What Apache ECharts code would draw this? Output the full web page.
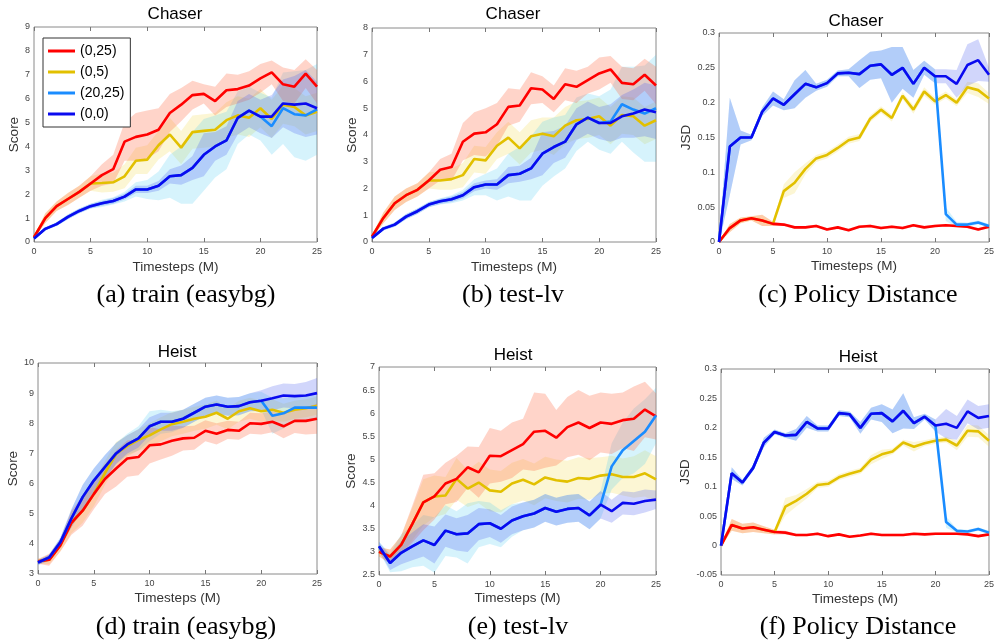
<!DOCTYPE html>
<html>
<head>
<meta charset="utf-8">
<script src="https://cdn.jsdelivr.net/npm/echarts@6/dist/echarts.min.js"></script>
<style>
html,body{margin:0;padding:0;background:#fff;}
#chart{width:997px;height:641px;}
</style>
</head>
<body>
<div id="chart"></div>
<script>
// ---------- data ----------
const steps = ['0','1','2','3','4','5','6','7','8','9','10','11','12','13','14','15','16','17','18','19','20','21','22','23','24','25'];
const seriesNames = ['(0,25)','(0,5)','(20,25)','(0,0)'];

// (a) train (easybg) - Chaser
const aRed    = [0.2,1.0,1.5,1.8,2.1,2.45,2.8,3.05,4.2,4.4,4.5,4.7,5.4,5.75,6.15,6.2,5.9,6.35,6.4,6.55,6.85,7.1,6.6,6.5,7.05,6.5];
const aYellow = [0.2,1.0,1.5,1.8,2.1,2.45,2.47,2.5,2.75,3.4,3.45,4.05,4.5,3.95,4.6,4.65,4.7,5.1,5.3,5.2,5.6,5.15,5.75,5.65,5.3,5.45];
const aLight  = [0.15,0.55,0.75,1.05,1.3,1.5,1.62,1.72,1.9,2.2,2.2,2.35,2.75,2.8,3.1,3.65,4.0,4.25,5.2,5.5,5.25,4.85,5.6,5.35,5.3,5.55];
const aBlue   = [0.15,0.55,0.75,1.05,1.3,1.5,1.62,1.72,1.9,2.2,2.2,2.35,2.75,2.8,3.1,3.65,4.0,4.25,5.2,5.5,5.25,5.25,5.8,5.75,5.8,5.6];
const aRedSd    = [0.05,0.2,0.2,0.25,0.25,0.3,0.45,0.6,0.8,1.0,1.0,0.9,0.8,0.7,0.6,0.4,0.6,0.7,0.6,0.6,0.6,0.5,0.7,0.7,0.6,0.7];
const aYellowSd = [0.05,0.2,0.2,0.25,0.25,0.3,0.4,0.4,0.5,0.55,0.6,0.6,0.7,0.7,0.7,0.7,0.7,0.75,0.8,0.8,0.8,0.8,0.8,0.8,0.8,0.8];
const aLightSd  = [0.05,0.05,0.08,0.1,0.1,0.1,0.15,0.15,0.2,0.3,0.4,0.6,0.9,1.2,1.5,1.5,1.3,1.2,1.1,1.0,1.0,1.2,1.5,1.8,1.9,1.9];
const aBlueSd   = [0.05,0.07,0.08,0.1,0.1,0.1,0.1,0.12,0.12,0.15,0.15,0.2,0.3,0.4,0.5,0.9,0.6,0.6,0.7,0.7,0.7,0.9,1.0,1.2,1.4,1.1];

// (b) test-lv - Chaser
const bRed    = [0.2,0.9,1.45,1.75,1.95,2.3,2.7,2.8,3.75,4.05,4.1,4.4,5.05,5.1,5.75,5.7,5.35,5.9,5.8,6.05,6.3,6.45,5.95,5.9,6.25,5.85];
const bYellow = [0.2,0.9,1.45,1.75,1.95,2.3,2.3,2.35,2.5,3.1,3.05,3.6,3.9,3.5,3.95,4.05,3.95,4.35,4.55,4.6,4.7,4.35,4.75,4.7,4.35,4.55];
const bLight  = [0.15,0.5,0.65,0.95,1.15,1.4,1.52,1.6,1.75,2.05,2.15,2.15,2.5,2.55,2.75,3.3,3.55,3.75,4.4,4.65,4.45,4.5,5.15,4.95,4.8,5.0];
const bBlue   = [0.15,0.5,0.65,0.95,1.15,1.4,1.52,1.6,1.75,2.05,2.15,2.15,2.5,2.55,2.75,3.3,3.55,3.75,4.4,4.65,4.45,4.45,4.7,4.8,4.95,4.85];
const bRedSd    = [0.05,0.2,0.25,0.25,0.25,0.3,0.4,0.5,0.7,0.8,0.9,0.8,0.7,0.6,0.6,0.5,0.5,0.6,0.6,0.5,0.6,0.5,0.6,0.6,0.6,0.7];
const bYellowSd = [0.05,0.2,0.25,0.25,0.25,0.3,0.35,0.4,0.45,0.5,0.5,0.5,0.6,0.6,0.6,0.6,0.7,0.7,0.7,0.7,0.7,0.7,0.7,0.7,0.7,0.7];
const bLightSd  = [0.05,0.05,0.08,0.1,0.1,0.1,0.12,0.15,0.2,0.3,0.4,0.6,0.8,1.0,1.2,1.2,1.1,1.0,1.0,0.9,1.0,1.2,1.4,1.6,1.8,2.0];
const bBlueSd   = [0.05,0.07,0.08,0.1,0.1,0.1,0.1,0.1,0.12,0.15,0.15,0.2,0.3,0.3,0.4,0.8,0.6,0.6,0.6,0.6,0.6,0.7,0.8,0.9,1.0,1.0];

// (c) Policy Distance - Chaser
const cRed    = [0,0.02,0.031,0.034,0.031,0.026,0.025,0.021,0.021,0.023,0.018,0.021,0.017,0.022,0.023,0.02,0.022,0.02,0.024,0.021,0.023,0.024,0.023,0.022,0.018,0.022];
const cYellow = [0,0.02,0.031,0.034,0.031,0.026,0.073,0.085,0.105,0.12,0.125,0.135,0.146,0.15,0.177,0.19,0.178,0.21,0.19,0.216,0.202,0.211,0.2,0.222,0.218,0.206];
const cLight  = [0,0.137,0.15,0.15,0.187,0.206,0.197,0.212,0.227,0.222,0.228,0.242,0.243,0.241,0.253,0.255,0.24,0.25,0.227,0.25,0.238,0.04,0.025,0.025,0.028,0.023];
const cBlue   = [0,0.137,0.15,0.15,0.187,0.206,0.197,0.212,0.227,0.222,0.228,0.242,0.243,0.241,0.253,0.255,0.24,0.25,0.227,0.25,0.238,0.238,0.227,0.254,0.261,0.24];
const cRedSd    = [0.001,0.006,0.004,0.003,0.008,0.003,0.002,0.002,0.002,0.002,0.002,0.002,0.002,0.002,0.002,0.002,0.002,0.002,0.002,0.002,0.002,0.002,0.002,0.002,0.002,0.002];
const cYellowSd = [0.001,0.006,0.004,0.003,0.008,0.003,0.01,0.015,0.008,0.005,0.005,0.005,0.005,0.005,0.005,0.005,0.005,0.005,0.006,0.006,0.005,0.005,0.005,0.008,0.01,0.008];
const cLightSd  = [0.002,0.07,0.01,0.004,0.006,0.01,0.008,0.02,0.02,0.005,0.005,0.004,0.005,0.02,0.02,0.02,0.04,0.03,0.02,0.01,0.01,0.01,0.004,0.003,0.003,0.003];
const cBlueSd   = [0.002,0.07,0.01,0.004,0.006,0.01,0.008,0.02,0.02,0.005,0.005,0.004,0.005,0.02,0.02,0.02,0.04,0.03,0.02,0.01,0.01,0.01,0.02,0.03,0.03,0.01];

// (d) train (easybg) - Heist
const dRed    = [3.42,3.47,3.95,4.7,5.1,5.65,6.15,6.5,6.83,6.88,7.27,7.3,7.42,7.5,7.52,7.75,7.65,7.78,7.75,8.0,7.98,8.05,7.9,8.08,8.08,8.15];
const dYellow = [3.42,3.47,3.95,4.7,5.1,5.65,6.35,6.98,7.25,7.45,7.6,7.8,7.97,8.05,8.15,8.22,8.35,8.15,8.4,8.5,8.4,8.45,8.35,8.45,8.5,8.58];
const dLight  = [3.38,3.55,4.05,4.85,5.55,6.1,6.55,7.0,7.3,7.5,7.9,8.05,8.05,8.15,8.35,8.55,8.62,8.55,8.57,8.7,8.75,8.25,8.33,8.52,8.52,8.52];
const dBlue   = [3.38,3.55,4.05,4.85,5.55,6.1,6.55,7.0,7.3,7.5,7.9,8.05,8.05,8.15,8.35,8.55,8.62,8.55,8.57,8.7,8.75,8.83,8.92,8.9,8.92,9.0];
const dRedSd    = [0.08,0.2,0.2,0.4,0.5,0.5,0.5,0.6,0.6,0.6,0.6,0.5,0.5,0.4,0.4,0.35,0.35,0.3,0.3,0.35,0.35,0.35,0.4,0.4,0.45,0.5];
const dYellowSd = [0.08,0.15,0.2,0.35,0.4,0.4,0.4,0.4,0.35,0.35,0.4,0.4,0.4,0.4,0.4,0.4,0.4,0.35,0.35,0.35,0.35,0.35,0.3,0.3,0.3,0.3];
const dLightSd  = [0.08,0.1,0.15,0.3,0.4,0.4,0.4,0.35,0.35,0.4,0.5,0.4,0.35,0.3,0.3,0.3,0.3,0.3,0.3,0.3,0.3,0.6,0.5,0.4,0.4,0.4];
const dBlueSd   = [0.08,0.1,0.15,0.3,0.4,0.4,0.4,0.35,0.3,0.3,0.3,0.3,0.3,0.3,0.3,0.3,0.3,0.3,0.3,0.3,0.35,0.4,0.4,0.4,0.45,0.5];

// (e) test-lv - Heist
const eRed    = [3.0,2.9,3.15,3.6,4.07,4.2,4.48,4.58,4.83,4.72,5.08,5.07,5.2,5.33,5.6,5.62,5.47,5.7,5.8,5.68,5.8,5.77,5.85,5.88,6.08,5.93];
const eYellow = [3.0,2.9,3.15,3.6,4.07,4.2,4.22,4.58,4.37,4.5,4.33,4.3,4.48,4.56,4.46,4.61,4.55,4.52,4.6,4.58,4.65,4.68,4.62,4.62,4.7,4.57];
const eLight  = [3.12,2.76,2.98,3.12,3.25,3.15,3.46,3.38,3.4,3.6,3.62,3.5,3.68,3.77,3.83,3.95,3.87,3.93,3.95,3.79,4.02,4.85,5.2,5.4,5.6,5.95];
const eBlue   = [3.12,2.76,2.98,3.12,3.25,3.15,3.46,3.38,3.4,3.6,3.62,3.5,3.68,3.77,3.83,3.95,3.87,3.93,3.95,3.79,4.02,3.88,4.06,4.04,4.1,4.13];
const eRedSd    = [0.1,0.15,0.2,0.4,0.6,0.5,0.45,0.5,0.45,0.55,0.6,0.55,0.6,0.55,0.85,0.8,0.6,0.65,0.7,0.7,0.65,0.65,0.6,0.7,0.6,0.5];
const eYellowSd = [0.1,0.15,0.2,0.35,0.5,0.45,0.4,0.45,0.4,0.45,0.45,0.45,0.45,0.45,0.45,0.45,0.45,0.45,0.45,0.45,0.4,0.4,0.4,0.45,0.5,0.5];
const eLightSd  = [0.1,0.2,0.4,0.45,0.55,0.6,0.55,0.5,0.65,0.5,0.45,0.4,0.35,0.3,0.3,0.3,0.3,0.3,0.3,0.3,0.3,0.5,0.6,0.7,0.7,0.6];
const eBlueSd   = [0.1,0.15,0.25,0.3,0.35,0.4,0.35,0.35,0.4,0.35,0.3,0.3,0.3,0.3,0.3,0.3,0.3,0.3,0.3,0.3,0.3,0.25,0.25,0.25,0.25,0.2];

// (f) Policy Distance - Heist
const fRed    = [0,0.035,0.029,0.031,0.027,0.023,0.022,0.018,0.018,0.02,0.016,0.019,0.015,0.017,0.02,0.018,0.018,0.018,0.02,0.019,0.02,0.02,0.02,0.019,0.016,0.019];
const fYellow = [0,0.035,0.029,0.031,0.027,0.023,0.066,0.076,0.088,0.103,0.105,0.116,0.122,0.127,0.146,0.155,0.16,0.175,0.168,0.174,0.178,0.18,0.17,0.195,0.194,0.178];
const fLight  = [0,0.123,0.107,0.132,0.175,0.193,0.187,0.188,0.21,0.199,0.199,0.225,0.223,0.2,0.224,0.225,0.211,0.229,0.208,0.219,0.204,0.04,0.025,0.024,0.028,0.022];
const fBlue   = [0,0.123,0.107,0.132,0.175,0.193,0.187,0.188,0.21,0.199,0.199,0.225,0.223,0.2,0.224,0.225,0.211,0.229,0.208,0.219,0.204,0.207,0.2,0.228,0.217,0.22];
const fRedSd    = [0.001,0.01,0.008,0.008,0.006,0.004,0.003,0.002,0.002,0.002,0.002,0.002,0.002,0.002,0.002,0.002,0.002,0.002,0.002,0.002,0.002,0.002,0.002,0.002,0.002,0.002];
const fYellowSd = [0.001,0.01,0.008,0.008,0.006,0.004,0.015,0.01,0.008,0.005,0.005,0.005,0.005,0.005,0.008,0.008,0.005,0.005,0.008,0.005,0.005,0.005,0.008,0.01,0.01,0.01];
const fLightSd  = [0.002,0.01,0.005,0.005,0.008,0.004,0.004,0.01,0.01,0.005,0.005,0.005,0.005,0.01,0.01,0.015,0.02,0.03,0.01,0.005,0.01,0.01,0.003,0.003,0.003,0.003];
const fBlueSd   = [0.002,0.01,0.005,0.005,0.008,0.004,0.004,0.01,0.01,0.005,0.005,0.005,0.005,0.01,0.01,0.015,0.02,0.03,0.01,0.005,0.01,0.025,0.02,0.02,0.02,0.02];

// ---------- styles & layout ----------
const lineColors = ['#ff0000','#e2c000','#1a8cff','#0a0aef'];
const bandColors = ['rgba(255,100,60,0.28)','rgba(240,215,60,0.22)','rgba(70,200,240,0.22)','rgba(70,90,240,0.25)'];
const FONT = '"Liberation Sans", Arial, sans-serif';
const SERIF = '"Liberation Serif", "Times New Roman", serif';

const panels = [
  {means:[aRed,aYellow,aLight,aBlue], sds:[aRedSd,aYellowSd,aLightSd,aBlueSd],
   grid:{left:34,top:27,width:283,height:215}, y:[0,9,1], yName:'Score', yGap:12, xGap:18,
   title:'Chaser', tx:175, ty:14, cap:'(a) train (easybg)', cx:186, cy:295},
  {means:[bRed,bYellow,bLight,bBlue], sds:[bRedSd,bYellowSd,bLightSd,bBlueSd],
   grid:{left:372,top:28,width:284,height:214}, y:[0,8,1], yName:'Score', yGap:12, xGap:18,
   title:'Chaser', tx:513, ty:14, cap:'(b) test-lv', cx:513, cy:295},
  {means:[cRed,cYellow,cLight,cBlue], sds:[cRedSd,cYellowSd,cLightSd,cBlueSd],
   grid:{left:719,top:33,width:275,height:209}, y:[0,0.3,0.05], yName:'JSD', yGap:26, xGap:17,
   title:'Chaser', tx:856, ty:21, cap:'(c) Policy Distance', cx:858, cy:295},
  {means:[dRed,dYellow,dLight,dBlue], sds:[dRedSd,dYellowSd,dLightSd,dBlueSd],
   grid:{left:38,top:363,width:279,height:211}, y:[3,10,1], yName:'Score', yGap:17, xGap:17,
   title:'Heist', tx:177, ty:352, cap:'(d) train (easybg)', cx:186, cy:627},
  {means:[eRed,eYellow,eLight,eBlue], sds:[eRedSd,eYellowSd,eLightSd,eBlueSd],
   grid:{left:379,top:367,width:277,height:208}, y:[2.5,7,0.5], yName:'Score', yGap:17, xGap:16,
   title:'Heist', tx:513, ty:355, cap:'(e) test-lv', cx:518, cy:627},
  {means:[fRed,fYellow,fLight,fBlue], sds:[fRedSd,fYellowSd,fLightSd,fBlueSd],
   grid:{left:721,top:369,width:272,height:206}, y:[-0.05,0.3,0.05], yName:'JSD', yGap:26, xGap:17,
   title:'Heist', tx:858, ty:357, cap:'(f) Policy Distance', cx:858, cy:627}
];

const grids = [], xAxes = [], yAxes = [], series = [], graphics = [];
const everyFifth = (idx) => idx % 5 === 0;
const xTick = {inside:true, length:4, interval:everyFifth, lineStyle:{color:'#777', width:1}};
const yTick = {inside:true, length:4, lineStyle:{color:'#777', width:1}};

panels.forEach((p, gi) => {
  grids.push(Object.assign({show:true, borderColor:'#8a8a8a', borderWidth:1, backgroundColor:'transparent'}, p.grid));
  // bottom / top x axes
  xAxes.push({gridIndex:gi, type:'category', data:steps, boundaryGap:false, position:'bottom',
    axisLine:{show:false, onZero:false}, axisTick:xTick, splitLine:{show:false},
    axisLabel:{interval:everyFifth, fontSize:9, color:'#444', margin:5, fontFamily:FONT},
    name:'Timesteps (M)', nameLocation:'middle', nameGap:p.xGap,
    nameTextStyle:{fontSize:13.5, color:'#333', fontFamily:FONT}});
  xAxes.push({gridIndex:gi, type:'category', data:steps, boundaryGap:false, position:'top',
    axisLine:{show:false, onZero:false}, axisTick:xTick, splitLine:{show:false}, axisLabel:{show:false}});
  // left / right y axes
  yAxes.push({gridIndex:gi, type:'value', min:p.y[0], max:p.y[1], interval:p.y[2], position:'left',
    axisLine:{show:false, onZero:false}, axisTick:yTick, splitLine:{show:false},
    axisLabel:{fontSize:9, color:'#444', margin:4, fontFamily:FONT},
    name:p.yName, nameLocation:'middle', nameGap:p.yGap,
    nameTextStyle:{fontSize:13.5, color:'#333', fontFamily:FONT}});
  yAxes.push({gridIndex:gi, type:'value', min:p.y[0], max:p.y[1], interval:p.y[2], position:'right',
    axisLine:{show:false, onZero:false}, axisTick:yTick, splitLine:{show:false}, axisLabel:{show:false}});

  const xi = gi*2, yi = gi*2;
  // bands: yellow, light blue, red, blue
  [1,2,0,3].forEach(k => {
    const m = p.means[k], s = p.sds[k];
    const stackId = 'band_' + gi + '_' + k;
    series.push({type:'line', name:'lower'+gi+k, xAxisIndex:xi, yAxisIndex:yi, stack:stackId, stackStrategy:'all',
      data: m.map((v,i) => v - s[i]), symbol:'none', silent:true, animation:false,
      lineStyle:{opacity:0}, z:1});
    series.push({type:'line', name:'band'+gi+k, xAxisIndex:xi, yAxisIndex:yi, stack:stackId, stackStrategy:'all',
      data: s.map(v => 2*v), symbol:'none', silent:true, animation:false,
      lineStyle:{opacity:0}, areaStyle:{color:bandColors[k], opacity:1}, z:1});
  });
  // lines: yellow, red, light blue, blue
  [1,0,2,3].forEach(k => {
    series.push({type:'line', name:seriesNames[k], xAxisIndex:xi, yAxisIndex:yi,
      data: p.means[k], symbol:'none', showSymbol:false, animation:false,
      lineStyle:{width:2.6, color:lineColors[k]}, itemStyle:{color:lineColors[k]}, z:3});
  });

  graphics.push({type:'text', x:p.tx, y:p.ty, z:10,
    style:{text:p.title, align:'center', verticalAlign:'middle', fill:'#000', font:'17px ' + FONT}});
  graphics.push({type:'text', x:p.cx, y:p.cy, z:10,
    style:{text:p.cap, align:'center', verticalAlign:'middle', fill:'#000', font:'26px ' + SERIF}});
});

const chart = echarts.init(document.getElementById('chart'), null, {renderer:'canvas'});
chart.setOption({
  backgroundColor:'#fff',
  animation:false,
  grid:grids, xAxis:xAxes, yAxis:yAxes, series:series, graphic:graphics,
  legend:{show:true, orient:'vertical', left:43, top:38, icon:'rect', itemWidth:27, itemHeight:3, itemGap:5,
    padding:[5,6,5,5], borderColor:'#333', borderWidth:1, backgroundColor:'#fff', z:20,
    textStyle:{fontSize:14, color:'#000', fontFamily:FONT, lineHeight:16},
    data:seriesNames}
});
</script>
</body>
</html>
